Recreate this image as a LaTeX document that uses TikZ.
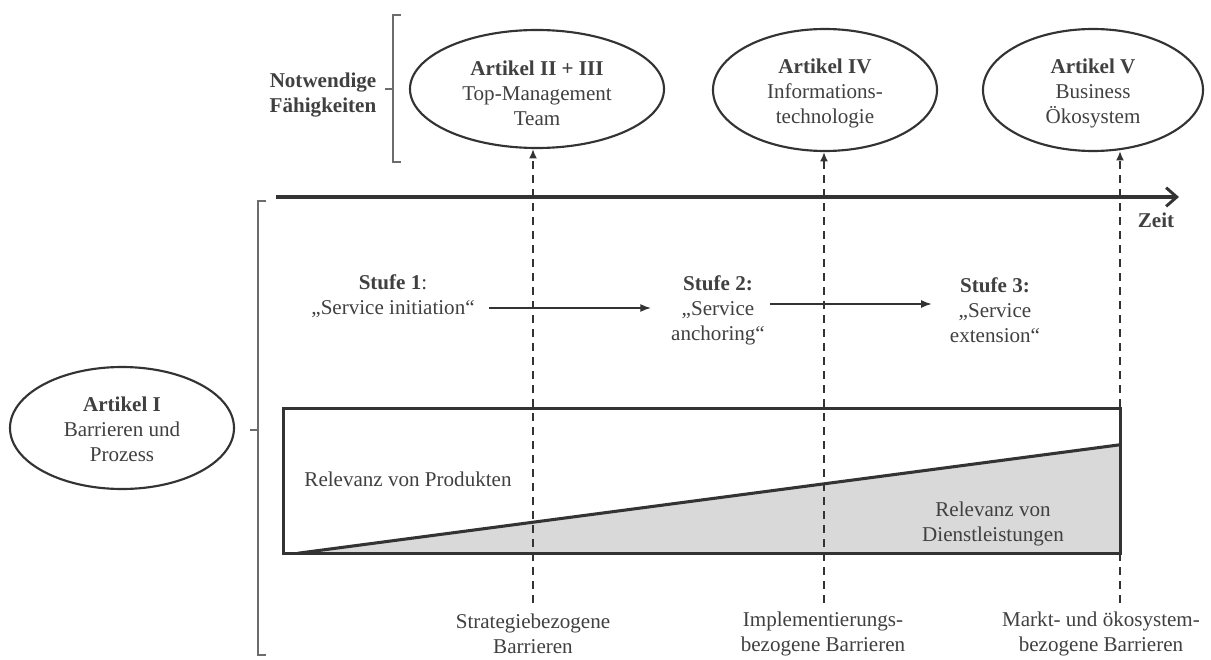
\documentclass[tikz,border=0pt]{standalone}
\usepackage{fontspec}
\setmainfont{Liberation Serif}
\usetikzlibrary{calc,arrows.meta,shapes.geometric}
\definecolor{txt}{HTML}{404040}
\definecolor{ln}{HTML}{333333}
\definecolor{lightfill}{HTML}{D9D9D9}
\begin{document}
\begin{tikzpicture}[x=0.75pt,y=-0.75pt,
  every node/.style={text=txt,font=\fontsize{15.8}{18.75}\selectfont,align=center},
  ell/.style={draw=ln,line width=1.6pt,ellipse,inner sep=0pt},
  plain/.style={inner sep=0pt},
  dashln/.style={draw=ln,line width=1.3pt,dash pattern=on 6pt off 4.5pt,-{Latex[length=7pt,width=6pt]}},
  stagearr/.style={draw=ln,line width=1pt,-{Latex[length=8pt,width=6pt]}},
  brk/.style={draw=gray!85!black,line width=0.9pt},
  timeln/.style={draw=ln,line width=3pt,-{Straight Barb[length=8pt,width=14pt,line width=2.2pt]}}
]
\useasboundingbox (0,0) rectangle (1211,660);

% upper ellipses
\node[ell,minimum width=190.5pt,minimum height=88.5pt] (e1) at (537,89) {};
\node[plain] (e1t) at (537,93) {\textbf{Artikel II + III}\\Top-Management\\Team};
\node[ell,minimum width=168pt,minimum height=91.5pt] (e2) at (825,90) {};
\node[plain] (e2t) at (825,93) {\textbf{Artikel IV}\\Informations-\\technologie};
\node[ell,minimum width=165pt,minimum height=91.5pt] (e3) at (1093,90) {};
\node[plain] (e3t) at (1093,93) {\textbf{Artikel V}\\Business\\Ökosystem};
\node[ell,minimum width=168pt,minimum height=91.5pt] (e0) at (122,428) {};
\node[plain] (e0t) at (122,429) {\textbf{Artikel I}\\Barrieren und\\Prozess};

% upper bracket
\node[plain,font=\fontsize{15.8}{18.75}\selectfont\bfseries] (nf) at (323,95) {Notwendige\\Fähigkeiten};
\coordinate (ub1) at (401,15);
\coordinate (ub2) at (393,15);
\coordinate (ub3) at (393,162);
\coordinate (ub4) at (401,162);
\coordinate (ubm) at (393,89);
\coordinate (ubt) at (385,89);
\draw[brk] (ub1) -- (ub2) -- (ub3) -- (ub4);
\draw[brk] (ubm) -- (ubt);

% lower bracket
\coordinate (lb1) at (266,201);
\coordinate (lb2) at (258,201);
\coordinate (lb3) at (258,655);
\coordinate (lb4) at (266,655);
\coordinate (lbm) at (258,430);
\coordinate (lbt) at (250,430);
\draw[brk] (lb1) -- (lb2) -- (lb3) -- (lb4);
\draw[brk] (lbm) -- (lbt);

% time axis
\coordinate (t0) at (276,197);
\coordinate (t1) at (1179,197);
\draw[timeln] (t0) -- (t1);
\node[plain,font=\fontsize{15.8}{18.75}\selectfont\bfseries] (zeit) at (1156,220) {Zeit};

% stages
\node[plain] (s1) at (393,296) {\textbf{Stufe 1}:\\„Service initiation“};
\node[plain] (s2) at (718,310) {\textbf{Stufe 2:}\\„Service\\anchoring“};
\node[plain] (s3) at (995,310) {\textbf{Stufe 3:}\\„Service\\extension“};
\draw[stagearr] ($(s1.east)+(14,12)$) -- ($(s2.west |- s1.east)+(-20,12)$);
\draw[stagearr] ($(s2.east)+(5,-6)$) -- ($(s3.west |- s2.east)+(-18,-6)$);

% relevance box
\node[plain,minimum width=627pt,minimum height=108pt] (box) at (702,481) {};
\coordinate (tA) at ($(box.south west)+(14,0)$);
\coordinate (tB) at ($(box.north east)+(0,36)$);
\fill[lightfill] (tA) -- (tB) -- (box.south east) -- cycle;
\draw[ln,line width=2.3pt] (tA) -- (tB);
\draw[ln,line width=2.3pt] (box.south west) rectangle (box.north east);
\node[plain] (rp) at (408,479) {Relevanz von Produkten};
\node[plain] (rd) at (993,524) {Relevanz von\\Dienstleistungen};

% barrier labels and dashed connectors
\node[plain] (b1) at (533,634) {Strategiebezogene\\Barrieren};
\node[plain] (b2) at (823,634) {Implementierungs-\\bezogene Barrieren};
\node[plain] (b3) at (1101,634) {Markt- und ökosystem-\\bezogene Barrieren};
\coordinate (d1) at (533,603);
\coordinate (d2) at (824,603);
\coordinate (d3) at (1120,603);
\draw[dashln] (d1) -- (d1 |- e1.south);
\draw[dashln] (d2) -- (d2 |- e2.south);
\draw[dashln] (d3) -- ($(d3 |- e3.south)+(0,-1)$);
\end{tikzpicture}
\end{document}
